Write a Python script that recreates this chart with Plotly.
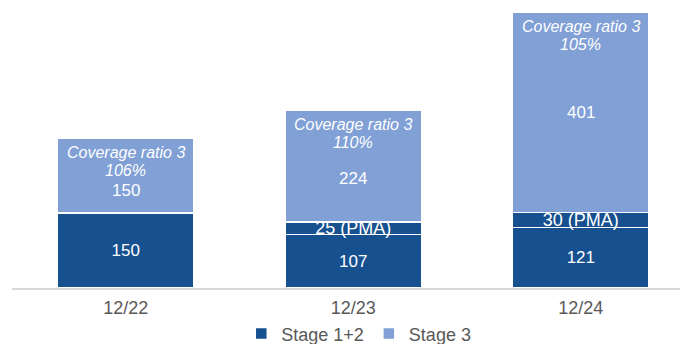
import plotly.graph_objects as go

categories = ["12/22", "12/23", "12/24"]
stage12 = [150, 107, 121]
pma = [0, 25, 30]
stage3 = [150, 224, 401]
coverage = ["106%", "110%", "105%"]
stage3_label_y = [196, 220, 352]

DARK = "#16508F"
LIGHT = "#80A0D6"
FONT = "Liberation Sans, Arial, sans-serif"

fig = go.Figure()
fig.add_trace(go.Bar(
    x=categories, y=stage12, name="Stage 1+2", marker=dict(color=DARK, line=dict(color="white", width=1.5)),
    text=[str(v) for v in stage12], textposition="inside", insidetextanchor="middle",
    textfont=dict(color="white", size=17, family=FONT), width=0.6, constraintext="none",
))
fig.add_trace(go.Bar(
    x=categories, y=pma, name="PMA", showlegend=False,
    marker=dict(color=DARK, line=dict(color="white", width=1.5)),
    text=[f"{v} (PMA)" if v else "" for v in pma], textposition="inside", insidetextanchor="middle",
    textfont=dict(color="white", size=18, family=FONT), width=0.6, constraintext="none",
))
fig.add_trace(go.Bar(
    x=categories, y=stage3, name="Stage 3", marker=dict(color=LIGHT, line=dict(color="white", width=1.5)),
    width=0.6, hoverinfo="y",
))

totals = [a + b + c for a, b, c in zip(stage12, pma, stage3)]
for i, c in enumerate(categories):
    fig.add_annotation(x=c, y=totals[i], yanchor="middle", yshift=-14, showarrow=False,
                       text="<i>Coverage ratio 3</i>",
                       font=dict(color="white", size=16, family=FONT))
    fig.add_annotation(x=c, y=totals[i], yanchor="middle", yshift=-32, showarrow=False,
                       text=f"<i>{coverage[i]}</i>",
                       font=dict(color="white", size=16, family=FONT))
    fig.add_annotation(x=c, y=stage3_label_y[i], showarrow=False, text=str(stage3[i]),
                       font=dict(color="white", size=17, family=FONT))

fig.update_layout(
    barmode="stack", width=680, height=336,
    margin=dict(l=4, r=0, t=0, b=56, autoexpand=False),
    plot_bgcolor="white", paper_bgcolor="white",
    font=dict(family=FONT, color="#595959", size=18),
    legend=dict(orientation="h", x=0.513, xanchor="center", yref="container", y=0.03, yanchor="middle",
                font=dict(size=18, color="#595959"), itemwidth=30, traceorder="normal"),
    xaxis=dict(type="category", range=[-0.5, 2.471], showline=True, linecolor="#D9D9D9", linewidth=1.5,
               ticks="outside", ticklen=3, tickcolor="rgba(0,0,0,0)", tickfont=dict(size=18, color="#595959"),
               automargin=False),
    yaxis=dict(range=[0, 560], visible=False, showgrid=False, automargin=False),
)
fig.write_html("out.html")
